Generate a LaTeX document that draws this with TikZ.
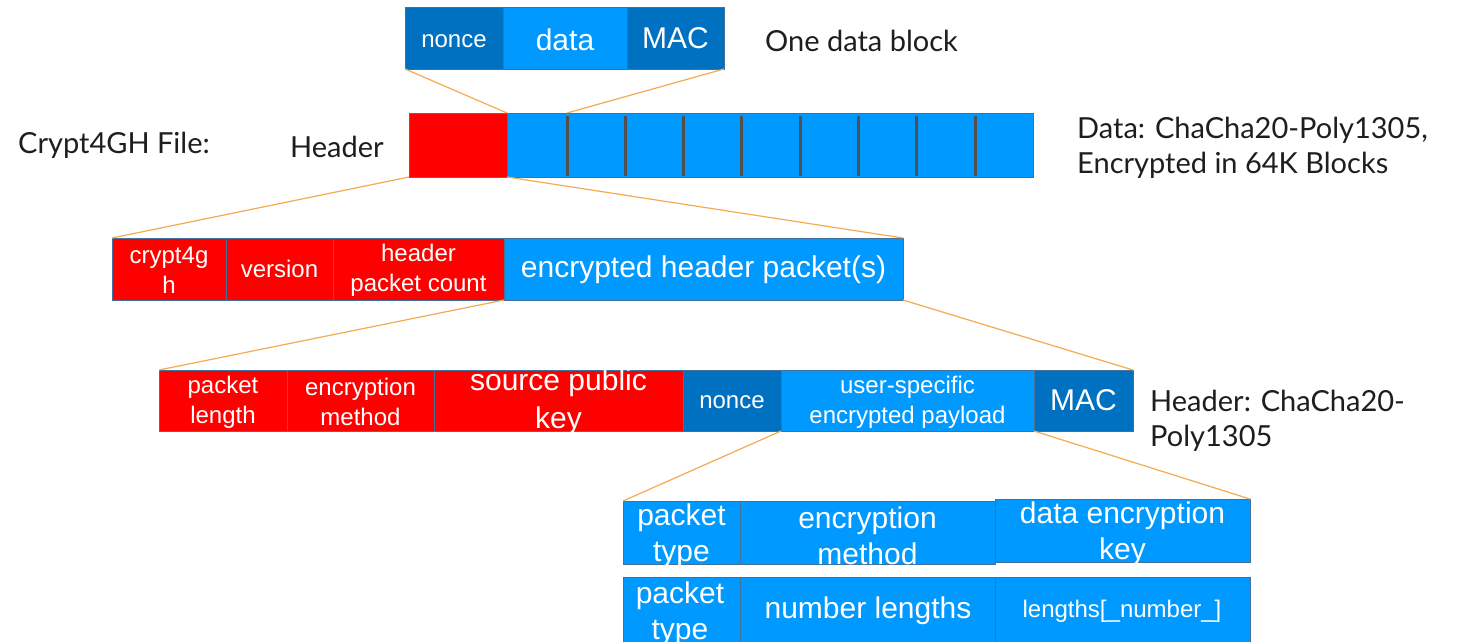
\documentclass[tikz,border=0pt]{standalone}
\usepackage{fontspec}
\setmainfont{Liberation Sans}
\newfontfamily\outerfont{Lato}
\definecolor{cred}{RGB}{255,0,0}
\definecolor{clight}{RGB}{0,153,255}
\definecolor{cdark}{RGB}{0,112,192}
\definecolor{cborder}{RGB}{65,113,156}
\definecolor{corange}{RGB}{245,170,80}
\definecolor{cdiv}{RGB}{80,80,80}
\definecolor{ctext}{RGB}{30,30,30}
\tikzset{
  cell/.style={draw=cborder, line width=0.8pt, anchor=north west, inner sep=0pt, outer sep=0pt},
  redcell/.style={cell, fill=cred},
  lightcell/.style={cell, fill=clight},
  darkcell/.style={cell, fill=cdark},
  small/.style={text=white, align=center, inner sep=0pt, font=\fontsize{24}{30}\selectfont},
  big/.style={text=white, align=center, inner sep=0pt, font=\fontsize{30}{36}\selectfont},
  outer/.style={text=ctext, anchor=west, align=left, inner sep=0pt, font=\outerfont\fontsize{29}{35.5}\selectfont},
  zoomline/.style={draw=corange, line width=1.2pt},
  divider/.style={draw=cdiv, line width=3pt},
}
\newcommand{\cellbox}[6]{% style, name, x1, y1, x2, y2
  \node[#1, minimum width=#5-#3, minimum height=#6-#4] (#2) at (#3,#4) {};}
\begin{document}
\begin{tikzpicture}[x=1pt,y=-1pt]
\useasboundingbox (0,0) rectangle (1460,641);
\fill[white] (0,0) rectangle (1460,641);
% top data block
\cellbox{darkcell}{tnonce}{405}{7}{503}{69}
\cellbox{lightcell}{tdata}{503}{7}{627}{69}
\cellbox{darkcell}{tmac}{627}{7}{724}{69}
\node[small] at ([yshift=-3]tnonce.center) {nonce};
\node[big] at ([yshift=-2]tdata.center) {data};
\node[big] at (tmac.center) {MAC};
\node[outer] (onedb) at (765,41) {One data block};
% file bar
\cellbox{redcell}{hdr}{409}{113}{507}{177}
\cellbox{lightcell}{dbar}{507}{113}{1033}{177}
\foreach \xx/\nm in {567/d1,625/d2,683/d3,741/d4,800/d5,858/d6,916/d7,975/d8}{
  \coordinate (\nm t) at (\xx,116);
  \coordinate (\nm b) at (\xx,176);
  \draw[divider] (\nm t) -- (\nm b);
}
\coordinate (d1top) at (567,113);
\node[outer] (filelbl) at (18,145) {Crypt4GH File:};
\node[outer] (hdrlbl) at (290,147) {Header};
\node[outer] (datalbl) at (1077,148) {Data: ChaCha20-Poly1305,\\Encrypted in 64K Blocks};
% row 2
\cellbox{redcell}{ra}{112}{238}{226}{300}
\cellbox{redcell}{rb}{226}{238}{333}{300}
\cellbox{redcell}{rc}{333}{238}{504}{300}
\cellbox{lightcell}{rd}{504}{238}{903}{300}
\node[small] at ([yshift=-1]ra.center) {crypt4g\\h};
\node[small] at (rb.center) {version};
\node[small] at ([yshift=-1]rc.center) {header\\packet count};
\node[big] at ([yshift=-1]rd.center) {encrypted header packet(s)};
% row 3
\cellbox{redcell}{sa}{159}{370}{287}{431}
\cellbox{redcell}{sb}{287}{370}{434}{431}
\cellbox{redcell}{sc}{434}{370}{683}{431}
\cellbox{darkcell}{sd}{683}{370}{781}{431}
\cellbox{lightcell}{se}{781}{370}{1034}{431}
\cellbox{darkcell}{sf}{1034}{370}{1133}{431}
\node[small] at ([yshift=-2]sa.center) {packet\\length};
\node[small] at ([yshift=-1]sb.center) {encryption\\method};
\node[big, font=\fontsize{30}{38}\selectfont] at ([yshift=-1]sc.center) {source public\\key};
\node[small] at ([yshift=-2]sd.center) {nonce};
\node[small] at ([yshift=-2]se.center) {user-specific\\encrypted payload};
\node[big] at (sf.center) {MAC};
\node[outer] (hdrenc) at (1150,421) {Header: ChaCha20-\\Poly1305};
% row 4
\cellbox{lightcell}{ta}{623}{501}{740}{564}
\cellbox{lightcell}{tb}{740}{501}{995}{564}
\cellbox{lightcell}{tc}{995}{499}{1250}{562}
\node[big] at ([yshift=-3]ta.center) {packet\\type};
\node[big] at ([yshift=-3]tb.center) {encryption\\method};
\node[big] at ([yshift=-3]tc.center) {data encryption\\key};
% row 5
\cellbox{lightcell}{ua}{623}{577}{740}{644}
\cellbox{lightcell}{ub}{740}{577}{995}{644}
\cellbox{lightcell}{uc}{995}{577}{1250}{644}
\node[big] at (680,614) {packet\\type};
\node[big] at (868,611) {number lengths};
\node[small] at (1122,611) {lengths[\_number\_]};
% zoom lines
\draw[zoomline] (tnonce.south west) -- (dbar.north west);
\draw[zoomline] (tmac.south east) -- (d1top);
\draw[zoomline] (hdr.south west) -- (ra.north west);
\draw[zoomline] (hdr.south east) -- (rd.north east);
\draw[zoomline] (rd.south west) -- (sa.north west);
\draw[zoomline] (rd.south east) -- (sf.north east);
\draw[zoomline] (se.south west) -- (ta.north west);
\draw[zoomline] (se.south east) -- (tc.north east);
\end{tikzpicture}
\end{document}
